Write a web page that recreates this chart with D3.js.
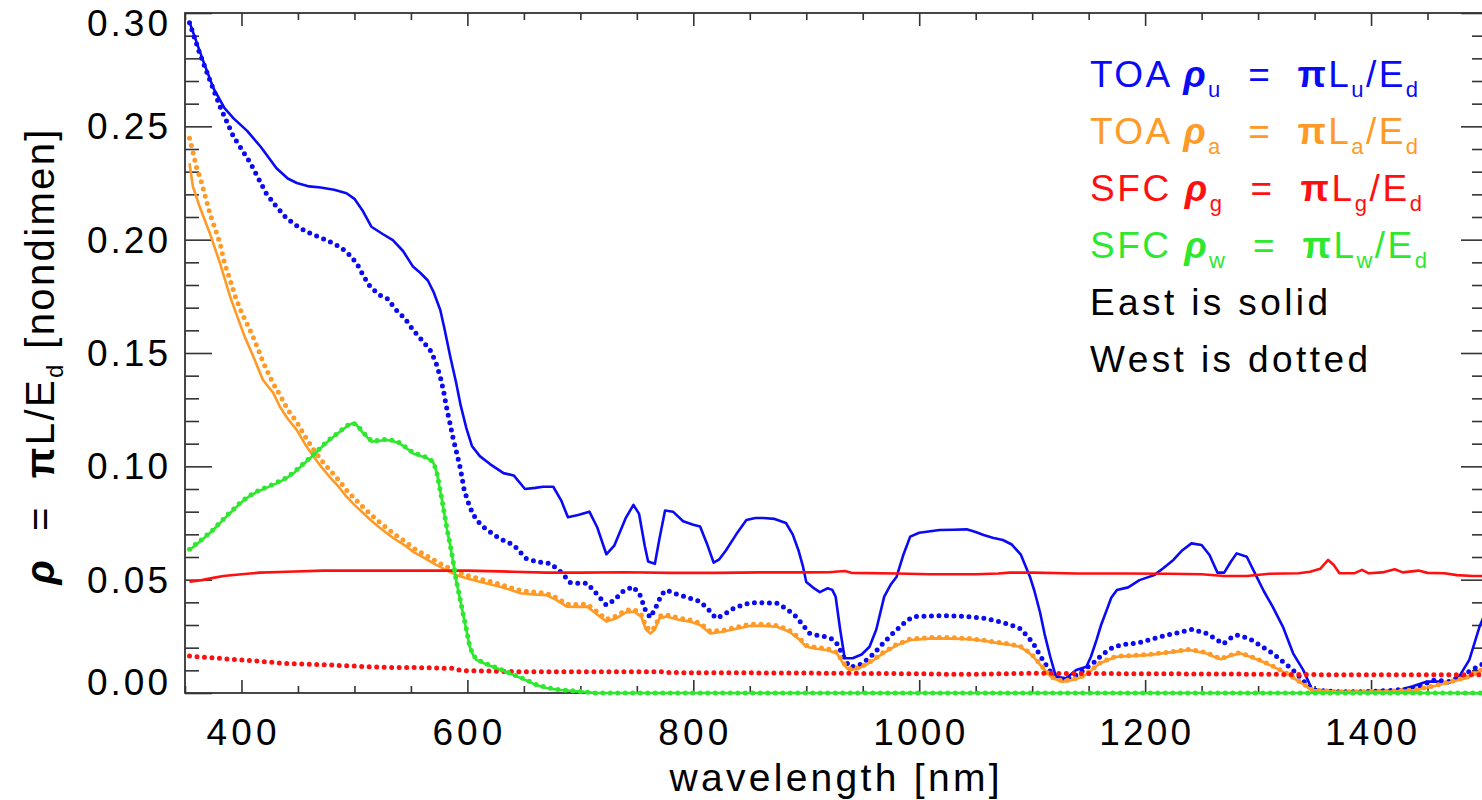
<!DOCTYPE html>
<html><head><meta charset="utf-8">
<script src="https://cdn.jsdelivr.net/npm/d3@7"></script>
<style>
html,body{margin:0;padding:0;background:#fff;overflow:hidden}
svg{display:block;background:#fff}
text{font-family:"Liberation Sans",Arial,sans-serif;white-space:pre}
</style></head><body>
<svg id="chart" width="1482" height="800"></svg>
<script>
// ---------- data ----------
const xMajorTicks = [400, 600, 800, 1000, 1200, 1400];
const yMajorTicks = [0, 0.05, 0.10, 0.15, 0.20, 0.25, 0.30];
const yTickLabels = ["0.00", "0.05", "0.10", "0.15", "0.20", "0.25", "0.30"];

// TOA rho_u, East (solid)
const toaU_east = [[354,0.296],[366,0.279],[375,0.267],[385,0.258],[393,0.2535],[405,0.248],[417,0.241],[431,0.2315],[441,0.227],[449,0.225],[460,0.2235],[470,0.223],[482,0.222],[493,0.2205],[500,0.218],[507,0.213],[515,0.2057],[525,0.2025],[534,0.1998],[543,0.195],[552,0.188],[558,0.1855],[565,0.182],[570,0.177],[576,0.169],[580,0.16],[585,0.148],[590,0.137],[594,0.127],[599,0.117],[604,0.109],[611,0.1045],[620,0.101],[632,0.097],[641,0.096],[651,0.09],[660,0.0905],[667,0.091],[676,0.091],[683,0.085],[689,0.0775],[698,0.0785],[708,0.08],[715,0.073],[723,0.0612],[730,0.065],[740,0.077],[747,0.083],[752,0.079],[757,0.065],[760,0.058],[766,0.057],[770,0.068],[775,0.0805],[782,0.08],[791,0.0758],[800,0.0742],[806,0.0735],[812,0.066],[818,0.0575],[823,0.059],[829,0.063],[838,0.07],[847,0.0763],[855,0.0772],[862,0.0772],[872,0.0768],[882,0.075],[888,0.07],[893,0.0631],[897,0.056],[900,0.049],[906,0.0465],[912,0.0445],[919,0.0462],[923,0.0455],[926,0.0425],[930,0.028],[934,0.0153],[941,0.0153],[949,0.017],[956,0.0204],[962,0.028],[969,0.0425],[975,0.048],[980,0.0513],[986,0.061],[992,0.069],[1000,0.0707],[1018,0.0719],[1030,0.072],[1042,0.0722],[1050,0.071],[1057,0.0697],[1065,0.0685],[1074,0.0675],[1082,0.0655],[1090,0.061],[1098,0.0513],[1102,0.045],[1107,0.0355],[1111,0.026],[1116,0.016],[1121,0.0072],[1130,0.0065],[1139,0.0101],[1148,0.0116],[1152,0.016],[1157,0.0234],[1161,0.03],[1166,0.0366],[1170,0.042],[1175,0.0454],[1185,0.0466],[1195,0.0498],[1208,0.052],[1216,0.055],[1225,0.0587],[1233,0.063],[1241,0.066],[1250,0.0653],[1257,0.0609],[1264,0.0531],[1270,0.0531],[1276,0.058],[1281,0.0616],[1290,0.0601],[1298,0.052],[1305,0.045],[1313,0.038],[1322,0.0292],[1331,0.0175],[1340,0.0101],[1348,0.0013],[1366,0.0006],[1396,0.0006],[1425,0.0013],[1437,0.003],[1449,0.005],[1461,0.005],[1468,0.0043],[1478,0.0072],[1487,0.0146],[1496,0.0292],[1500,0.034]];

// TOA rho_u, West (dotted)
const toaU_west = [[354,0.2957],[363,0.2822],[372,0.2704],[381,0.2587],[393,0.2454],[400,0.24],[408,0.2337],[415,0.227],[422,0.2204],[431,0.2145],[440,0.2094],[452,0.205],[462,0.2025],[472,0.2005],[483,0.198],[493,0.1947],[502,0.1896],[508,0.184],[514,0.1792],[522,0.1756],[529,0.174],[537,0.169],[545,0.165],[552,0.1601],[560,0.1555],[567,0.1513],[572,0.146],[576,0.1395],[579,0.133],[582,0.1248],[585,0.118],[587,0.1131],[591,0.105],[594,0.0985],[597,0.09],[600,0.085],[604,0.08],[608,0.0763],[616,0.0725],[626,0.069],[633,0.067],[641,0.0653],[647,0.062],[652,0.0594],[662,0.0578],[673,0.0572],[679,0.055],[684,0.0528],[691,0.0487],[698,0.0484],[706,0.0484],[714,0.044],[723,0.0388],[730,0.041],[738,0.045],[747,0.0469],[753,0.043],[758,0.036],[762,0.0333],[767,0.038],[772,0.0435],[776,0.0454],[786,0.0435],[797,0.0418],[806,0.0403],[813,0.037],[820,0.033],[827,0.0345],[836,0.0375],[850,0.0398],[862,0.0398],[874,0.0396],[883,0.037],[891,0.0337],[897,0.03],[903,0.0263],[912,0.0252],[918,0.0248],[923,0.0238],[927,0.0219],[933,0.016],[938,0.0116],[944,0.0118],[950,0.0131],[959,0.017],[968,0.0219],[976,0.026],[983,0.0292],[989,0.032],[995,0.0337],[1010,0.034],[1027,0.0341],[1042,0.0338],[1057,0.033],[1071,0.0315],[1080,0.0302],[1089,0.0285],[1095,0.0255],[1101,0.0219],[1107,0.0165],[1113,0.0118],[1118,0.008],[1127,0.0057],[1135,0.0068],[1142,0.0087],[1148,0.011],[1154,0.0131],[1162,0.017],[1172,0.0204],[1183,0.0215],[1195,0.0222],[1213,0.0248],[1228,0.0265],[1242,0.0281],[1254,0.0263],[1262,0.024],[1269,0.0216],[1275,0.024],[1281,0.0256],[1292,0.0241],[1302,0.021],[1313,0.0175],[1322,0.0138],[1331,0.0101],[1340,0.0055],[1348,0.0013],[1370,0.0006],[1396,0.0006],[1420,0.0012],[1437,0.002],[1448,0.004],[1455,0.0057],[1470,0.005],[1484,0.0087],[1497,0.0124],[1500,0.013]];

// TOA rho_a, East (solid)
const toaA_east = [[354,0.2337],[357,0.2234],[363,0.2145],[372,0.2028],[381,0.1896],[390,0.1748],[396,0.1665],[403,0.157],[410,0.149],[419,0.1381],[428,0.1325],[434,0.1263],[441,0.121],[449,0.116],[456,0.11],[464,0.1042],[471,0.0995],[478,0.0954],[486,0.091],[493,0.0866],[500,0.083],[508,0.0793],[515,0.076],[523,0.0727],[530,0.07],[537,0.0675],[545,0.065],[552,0.0623],[561,0.0598],[570,0.0572],[580,0.0545],[590,0.0521],[600,0.0505],[611,0.0491],[620,0.048],[629,0.0469],[638,0.0455],[647,0.044],[658,0.0435],[670,0.0432],[679,0.041],[688,0.0381],[697,0.038],[706,0.0381],[714,0.035],[723,0.0315],[732,0.033],[740,0.0355],[748,0.0359],[754,0.0335],[758,0.028],[762,0.0263],[766,0.028],[770,0.033],[776,0.0337],[788,0.0322],[797,0.0315],[806,0.03],[815,0.0263],[826,0.027],[838,0.0283],[850,0.0296],[862,0.0296],[874,0.0292],[885,0.027],[893,0.024],[900,0.0204],[909,0.0195],[918,0.019],[927,0.0175],[932,0.0135],[936,0.0109],[940,0.0101],[947,0.011],[953,0.0124],[961,0.015],[968,0.0175],[980,0.021],[992,0.0234],[1012,0.0241],[1030,0.024],[1045,0.0237],[1060,0.0228],[1071,0.0219],[1080,0.0213],[1089,0.0204],[1095,0.0185],[1101,0.016],[1107,0.0125],[1112,0.0095],[1118,0.0065],[1127,0.005],[1136,0.0058],[1145,0.0072],[1152,0.0098],[1160,0.0131],[1168,0.0148],[1175,0.016],[1190,0.0164],[1204,0.0168],[1220,0.0178],[1239,0.019],[1254,0.0175],[1261,0.016],[1267,0.0149],[1275,0.0163],[1284,0.0175],[1294,0.0158],[1304,0.0138],[1316,0.011],[1327,0.008],[1338,0.0045],[1348,0.0013],[1370,0.0005],[1396,0.0005],[1420,0.0008],[1440,0.0013],[1460,0.0035],[1484,0.0065],[1496,0.0094],[1500,0.011]];

// TOA rho_a, West (dotted)
const toaA_west = [[354,0.2447],[357,0.2388],[360,0.2322],[364,0.2263],[368,0.219],[372,0.2116],[377,0.2043],[381,0.1984],[385,0.1896],[390,0.1822],[394,0.1756],[400,0.168],[410,0.1575],[420,0.145],[428,0.1366],[434,0.1315],[441,0.125],[449,0.1195],[456,0.1135],[464,0.1072],[471,0.1025],[478,0.0985],[486,0.094],[493,0.0895],[500,0.0858],[508,0.0818],[515,0.0785],[523,0.075],[530,0.0722],[537,0.0695],[545,0.0668],[552,0.064],[561,0.0614],[570,0.0588],[580,0.056],[590,0.0537],[600,0.0518],[611,0.0503],[620,0.0492],[629,0.048],[638,0.0465],[647,0.0452],[658,0.0446],[670,0.044],[679,0.042],[688,0.0392],[697,0.039],[706,0.0392],[714,0.0362],[723,0.0325],[732,0.034],[740,0.0365],[748,0.0368],[754,0.0345],[758,0.0295],[762,0.0275],[766,0.029],[770,0.034],[776,0.0345],[788,0.033],[797,0.0322],[806,0.0308],[815,0.0272],[826,0.0277],[838,0.029],[850,0.0303],[862,0.0303],[874,0.0298],[885,0.0277],[893,0.0247],[900,0.021],[909,0.0201],[918,0.0196],[927,0.018],[932,0.014],[936,0.0113],[940,0.0104],[947,0.0113],[953,0.0127],[961,0.0153],[968,0.0178],[980,0.0214],[992,0.0238],[1012,0.0245],[1030,0.0244],[1045,0.024],[1060,0.0231],[1071,0.0222],[1080,0.0216],[1089,0.0207],[1095,0.0188],[1101,0.0163],[1107,0.0128],[1112,0.0098],[1118,0.0068],[1127,0.0052],[1136,0.006],[1145,0.0075],[1152,0.01],[1160,0.0133],[1168,0.015],[1175,0.0162],[1190,0.0166],[1204,0.017],[1220,0.018],[1239,0.0193],[1254,0.0178],[1261,0.0163],[1267,0.0152],[1275,0.0166],[1284,0.0178],[1294,0.016],[1304,0.014],[1316,0.0112],[1327,0.0082],[1338,0.0046],[1348,0.0014],[1370,0.0005],[1396,0.0005],[1420,0.0009],[1440,0.0014],[1460,0.0037],[1484,0.0068],[1496,0.0097],[1500,0.0112]];

// SFC rho_g, East (solid)
const sfcG_east = [[354,0.0491],[365,0.0498],[375,0.0508],[384,0.0516],[400,0.0524],[416,0.0531],[440,0.0535],[472,0.054],[550,0.054],[600,0.054],[640,0.0535],[670,0.0531],[700,0.0531],[740,0.0533],[780,0.053],[820,0.053],[860,0.0532],[900,0.0532],[920,0.0533],[934,0.0538],[940,0.053],[980,0.0527],[1010,0.0524],[1050,0.0524],[1070,0.0527],[1080,0.0531],[1100,0.0531],[1140,0.0527],[1180,0.0527],[1220,0.0526],[1250,0.0524],[1270,0.0516],[1290,0.0516],[1310,0.0526],[1336,0.0528],[1346,0.0535],[1355,0.0548],[1362,0.0587],[1367,0.0565],[1372,0.0528],[1385,0.0528],[1392,0.0543],[1398,0.0528],[1410,0.0532],[1421,0.0546],[1428,0.0532],[1442,0.054],[1450,0.053],[1465,0.0528],[1476,0.052],[1490,0.0516],[1500,0.0516]];

// SFC rho_g, West (dotted)
const sfcG_west = [[354,0.0163],[380,0.0153],[409,0.0143],[438,0.0131],[468,0.0126],[498,0.0119],[527,0.0113],[557,0.0112],[586,0.0109],[595,0.0099],[645,0.0094],[700,0.0094],[770,0.0094],[780,0.009],[900,0.0088],[1000,0.0085],[1040,0.0082],[1100,0.0087],[1200,0.0085],[1300,0.0083],[1380,0.008],[1440,0.008],[1500,0.008]];

// SFC rho_w, East (solid)
const sfcW_east = [[354,0.0631],[365,0.0675],[375,0.0719],[387,0.078],[399,0.0837],[406,0.0865],[414,0.0888],[422,0.0905],[431,0.0925],[439,0.0945],[446,0.0969],[455,0.101],[464,0.105],[471,0.1085],[478,0.1116],[486,0.1148],[493,0.1175],[498,0.119],[502,0.1182],[508,0.1145],[515,0.1109],[521,0.1112],[528,0.1116],[534,0.1112],[540,0.1101],[546,0.108],[552,0.1057],[559,0.1045],[565,0.1035],[570,0.1015],[573,0.0969],[576,0.089],[579,0.0807],[582,0.072],[585,0.0645],[588,0.056],[590,0.0498],[593,0.0425],[596,0.0352],[599,0.028],[602,0.0204],[605,0.0168],[608,0.0146],[616,0.0128],[626,0.0109],[633,0.0095],[641,0.0079],[651,0.0058],[661,0.0035],[670,0.0022],[680,0.0014],[690,0.001],[700,0.0006],[714,0],[900,0],[1100,0],[1300,0],[1500,0]];

// SFC rho_w, West (dotted)
const sfcW_west = [[354,0.0634],[365,0.0678],[375,0.0721],[387,0.0783],[399,0.084],[406,0.0868],[414,0.089],[422,0.0908],[431,0.0928],[439,0.0948],[446,0.0972],[455,0.1013],[464,0.1053],[471,0.1088],[478,0.1119],[486,0.115],[493,0.1178],[498,0.1192],[502,0.1184],[508,0.1148],[515,0.1112],[521,0.1115],[528,0.1119],[534,0.1115],[540,0.1104],[546,0.1083],[552,0.106],[559,0.1048],[565,0.1038],[570,0.1018],[573,0.0972],[576,0.0893],[579,0.081],[582,0.0723],[585,0.0648],[588,0.0563],[590,0.05],[593,0.0428],[596,0.0355],[599,0.0283],[602,0.0207],[605,0.017],[608,0.0148],[616,0.013],[626,0.0111],[633,0.0097],[641,0.0081],[651,0.006],[661,0.0037],[670,0.0024],[680,0.0015],[690,0.0011],[700,0.0007],[714,0],[900,0],[1100,0],[1300,0],[1500,0]];

const seriesColors = {u:"#0a0af5", a:"#ff9a26", g:"#ff1010", w:"#2ee82e"};

// ---------- chart ----------
const svg = d3.select("#chart");
const X0 = 185, X1 = 1484, Y0 = 693, Y1 = 13;
const x = d3.scaleLinear().domain([350, 1500]).range([X0, X1]);
const y = d3.scaleLinear().domain([0, 0.30]).range([Y0, Y1]);

svg.append("defs").append("clipPath").attr("id","plotclip")
  .append("rect").attr("x",X0).attr("y",Y1 - 4).attr("width",X1-X0).attr("height",Y0-Y1 + 8);

const xMinor = d3.range(350, 1501, 50).filter(v => !xMajorTicks.includes(v));
const yMinor = d3.range(1, 30).filter(v => v % 5 !== 0).map(v => v / 100);

function styleAxis(g){
  g.select(".domain").remove();
  g.selectAll("line").attr("stroke","#333").attr("stroke-width",1.6);
}
// bottom (ticks inward)
svg.append("g").attr("transform",`translate(0,${Y0})`).call(d3.axisTop(x).tickValues(xMajorTicks).tickSize(13).tickFormat("")).call(styleAxis);
svg.append("g").attr("transform",`translate(0,${Y0})`).call(d3.axisTop(x).tickValues(xMinor).tickSize(7).tickFormat("")).call(styleAxis);
// top
svg.append("g").attr("transform",`translate(0,${Y1})`).call(d3.axisBottom(x).tickValues(xMajorTicks).tickSize(13).tickFormat("")).call(styleAxis);
svg.append("g").attr("transform",`translate(0,${Y1})`).call(d3.axisBottom(x).tickValues(xMinor).tickSize(7).tickFormat("")).call(styleAxis);
// left
svg.append("g").attr("transform",`translate(${X0},0)`).call(d3.axisRight(y).tickValues(yMajorTicks).tickSize(27).tickFormat("")).call(styleAxis);
svg.append("g").attr("transform",`translate(${X0},0)`).call(d3.axisRight(y).tickValues(yMinor).tickSize(14).tickFormat("")).call(styleAxis);
// right
svg.append("g").attr("transform",`translate(${X1},0)`).call(d3.axisLeft(y).tickValues(yMajorTicks).tickSize(23).tickFormat("")).call(styleAxis);
svg.append("g").attr("transform",`translate(${X1},0)`).call(d3.axisLeft(y).tickValues(yMinor).tickSize(12).tickFormat("")).call(styleAxis);

// frame
svg.append("rect").attr("x",X0).attr("y",Y1).attr("width",X1-X0).attr("height",Y0-Y1)
  .attr("fill","none").attr("stroke","#333").attr("stroke-width",1.8);

// tick labels
const yLabOffset = v => v === 0.30 ? 23 : (v === 0 ? 2 : 13);
svg.append("g").selectAll("text").data(yMajorTicks).join("text")
  .attr("x",168).attr("y",d => y(d) + yLabOffset(d))
  .attr("text-anchor","end").attr("font-size",37).attr("fill","#000")
  .attr("textLength",81).attr("lengthAdjust","spacing")
  .text((d,i) => yTickLabels[i]);
svg.append("g").selectAll("text").data(xMajorTicks).join("text")
  .attr("x",d => x(d)).attr("y",745)
  .attr("text-anchor","middle").attr("font-size",37).attr("fill","#000")
  .attr("textLength",d => d >= 1000 ? 92 : 70).attr("lengthAdjust","spacing")
  .text(d => String(d));

// axis titles
svg.append("text").attr("x",(X0+X1)/2).attr("y",791).attr("text-anchor","middle")
  .attr("font-size",39).attr("fill","#000").attr("textLength",330).attr("lengthAdjust","spacing")
  .text("wavelength [nm]");

const yt = svg.append("text").attr("transform","translate(54,357) rotate(-90)")
  .attr("text-anchor","middle").attr("font-size",40).attr("fill","#000")
  .attr("textLength",455).attr("lengthAdjust","spacing");
yt.append("tspan").attr("font-weight","bold").attr("font-style","italic").text("ρ");
yt.append("tspan").text("  =  ");
yt.append("tspan").attr("font-weight","bold").text("π");
yt.append("tspan").text("L/E");
yt.append("tspan").attr("font-size",24).attr("dy",9).text("d");
yt.append("tspan").attr("dy",-9).text(" [nondimen]");

// lines
const line = d3.line().x(d => x(d[0])).y(d => y(d[1]));
const plot = svg.append("g").attr("clip-path","url(#plotclip)");
const series = [
  {data: toaU_east, c: seriesColors.u, dotted:false},
  {data: toaU_west, c: seriesColors.u, dotted:true},
  {data: toaA_east, c: seriesColors.a, dotted:false},
  {data: toaA_west, c: seriesColors.a, dotted:true},
  {data: sfcG_east, c: seriesColors.g, dotted:false},
  {data: sfcG_west, c: seriesColors.g, dotted:true},
  {data: sfcW_east, c: seriesColors.w, dotted:false},
  {data: sfcW_west, c: seriesColors.w, dotted:true}
];
series.forEach(s => {
  const p = plot.append("path").datum(s.data).attr("d", line)
    .attr("fill","none").attr("stroke", s.c).attr("stroke-linejoin","round");
  if (s.dotted) p.attr("stroke-width",5).attr("stroke-dasharray","0 7.5").attr("stroke-linecap","round");
  else p.attr("stroke-width",2.6);
});

// legend
const legendRows = [
  {pre:"TOA", sub:"u", y:87,  w:328},
  {pre:"TOA", sub:"a", y:144, w:328},
  {pre:"SFC", sub:"g", y:201, w:332},
  {pre:"SFC", sub:"w", y:258, w:337}
];
legendRows.forEach(r => {
  const t = svg.append("text").attr("x",1090).attr("y",r.y).attr("font-size",37)
    .attr("fill",seriesColors[r.sub]).attr("textLength",r.w).attr("lengthAdjust","spacing");
  t.append("tspan").text(r.pre + " ");
  t.append("tspan").attr("font-weight","bold").attr("font-style","italic").text("ρ");
  t.append("tspan").attr("font-size",22).attr("dy",10).text(r.sub);
  t.append("tspan").attr("dy",-10).text("  =  ");
  t.append("tspan").attr("font-weight","bold").text("π");
  t.append("tspan").text("L");
  t.append("tspan").attr("font-size",22).attr("dy",10).text(r.sub);
  t.append("tspan").attr("dy",-10).text("/E");
  t.append("tspan").attr("font-size",22).attr("dy",10).text("d");
});
const notes = [{t:"East is solid", y:315, w:238},{t:"West is dotted", y:372, w:278}];
notes.forEach(n => {
  svg.append("text").attr("x",1090).attr("y",n.y).attr("font-size",37).attr("fill","#000")
    .attr("textLength",n.w).attr("lengthAdjust","spacing").text(n.t);
});
</script>
</body></html>
